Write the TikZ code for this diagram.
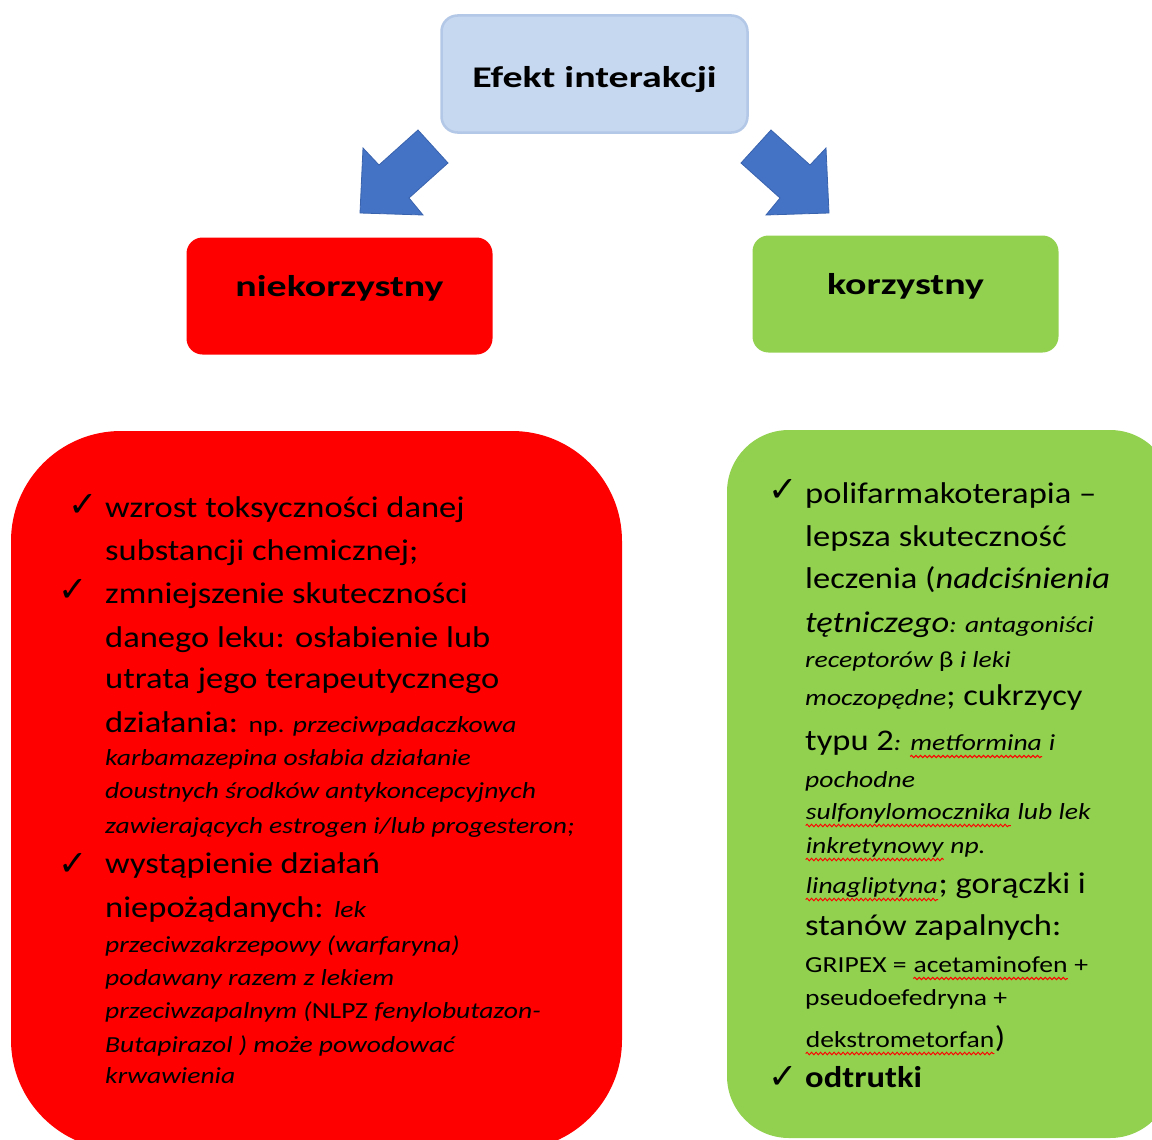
\documentclass[tikz,border=0pt]{standalone}
\usepackage{fontspec}
\setmainfont{Carlito}[FakeStretch=1.15]
\newfontfamily\naglfont{Carlito}[FakeStretch=1.33]
\newfontfamily\malyfont{Carlito}[FakeStretch=1.2]
\newfontfamily\znakfont{DejaVu Sans}
\usepackage{xcolor}
\usetikzlibrary{decorations.pathmorphing}
\definecolor{ef-niebieski}{HTML}{C6D8EF}
\definecolor{ef-niebieski-ramka}{HTML}{B3C7E6}
\definecolor{ef-strzalka}{HTML}{4472C4}
\definecolor{ef-strzalka-ramka}{HTML}{3A63AE}
\definecolor{ef-czerwony}{HTML}{FF0000}
\definecolor{ef-zielony}{HTML}{92D050}

\newcommand{\blad}[1]{\tikz[baseline=(w.base)]{\node[inner sep=0pt] (w) {#1};
    \draw[red, line width=1pt, decorate, decoration={snake, amplitude=1.2pt, segment length=4.5pt}]
    ([yshift=-6.5pt]w.base west) -- ([yshift=-6.5pt]w.base east);}}
\newcommand{\duzy}{\normalfont\fontsize{30}{36}\selectfont}
\newcommand{\maly}{\malyfont\fontsize{23}{27}\selectfont\itshape}
\newcommand{\malyup}{\malyfont\fontsize{23}{27}\selectfont\upshape}

\begin{document}
\begin{tikzpicture}[x=1pt,y=-1pt,
    naglowek/.style={rounded corners=16pt, minimum width=306pt, minimum height=117pt,
        font=\naglfont\fontsize{30}{34}\selectfont\bfseries, inner sep=0pt,
        text height=20pt, text depth=20pt},
    linia/.style={anchor=base west, inner sep=0pt},
    ptaszek/.style={anchor=base west, inner sep=0pt, font=\znakfont\fontsize{35}{40}\selectfont}]

\useasboundingbox (0,0) rectangle (1152,1140);
\clip (0,0) rectangle (1152,1140);

% naglowki
\node[naglowek, fill=ef-niebieski, draw=ef-niebieski-ramka, line width=2.5pt,
    text height=34pt, text depth=6pt] (efekt) at (594.5,74) {Efekt interakcji};
\node[naglowek, fill=ef-czerwony] (niekorz) at (339.5,296) {niekorzystny};
\node[naglowek, fill=ef-zielony] (korz) at (905.5,294) {korzystny};

% strzalki
\foreach \s in {1,-1} {
    \begin{scope}[shift={(594.5,0)}, xscale=\s]
        \fill[ef-strzalka, draw=ef-strzalka-ramka, line width=0.8pt]
        (-176.5,130) -- (-146.5,163) -- (-185.5,198) -- (-171.5,215)
        -- (-234.5,213) -- (-231.5,148) -- (-215.5,165) -- cycle;
    \end{scope}
}

% duze pola
\fill[ef-czerwony, rounded corners=110pt] (11,431) rectangle (622,1150);
\fill[ef-zielony, rounded corners=62pt] (727,430) rectangle (1172,1138);

% niekorzystny
\node[ptaszek] (ck1) at (68,516) {✓};
\node[ptaszek] (ck2) at (58,601) {✓};
\node[ptaszek] (ck3) at (58,875) {✓};
\foreach \y/\t [count=\i] in {
    517/{\duzy wzrost toksyczności danej},
    560/{\duzy substancji chemicznej;},
    603/{\duzy zmniejszenie skuteczności},
    647/{\duzy danego leku: osłabienie lub},
    688/{\duzy utrata jego terapeutycznego},
    732/{\duzy działania: \malyup np. \maly przeciwpadaczkowa},
    765/{\maly karbamazepina osłabia działanie},
    798/{\maly doustnych środków antykoncepcyjnych},
    833/{\maly zawierających estrogen i/lub progesteron;},
    873/{\duzy wystąpienie działań},
    917/{\duzy niepożądanych: \maly lek},
    952/{\maly przeciwzakrzepowy (warfaryna)},
    985/{\maly podawany razem z lekiem},
    1018/{\maly przeciwzapalnym ({\upshape NLPZ} fenylobutazon-},
    1052/{\maly Butapirazol ) może powodować},
    1083/{\maly krwawienia}} {
    \node[linia] (l\i) at (105,\y) {\t};
}

% korzystny
\node[ptaszek] (ck4) at (768,501) {✓};
\node[ptaszek] (ck5) at (768,1088) {✓};
\foreach \y/\t [count=\i] in {
    503/{\duzy polifarmakoterapia –},
    546/{\duzy lepsza skuteczność},
    588/{\duzy leczenia (\itshape nadciśnienia},
    632/{\duzy\itshape tętniczego\maly: antagoniści},
    667/{\maly receptorów {\upshape β} i leki},
    705/{\maly moczopędne\duzy; cukrzycy},
    750/{\duzy typu 2\maly: \blad{metformina} i},
    787/{\maly pochodne},
    819/{\maly \blad{sulfonylomocznika} lub lek},
    853/{\maly \blad{inkretynowy} np.},
    893/{\maly \blad{linagliptyna}\duzy; gorączki i},
    935/{\duzy stanów zapalnych:},
    972/{\malyup GRIPEX = \blad{acetaminofen} +},
    1005/{\malyup pseudoefedryna +},
    1047/{\malyup \blad{dekstrometorfan}\duzy)},
    1087/{\duzy\bfseries odtrutki}} {
    \node[linia] (r\i) at (805,\y) {\t};
}
\end{tikzpicture}
\end{document}
